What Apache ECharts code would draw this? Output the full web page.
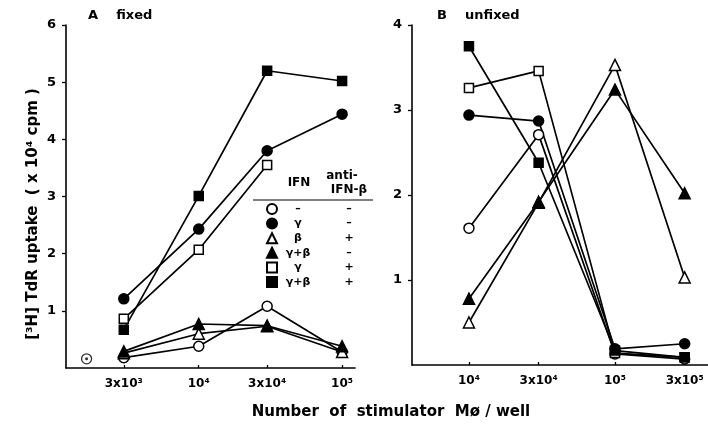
<!DOCTYPE html>
<html><head><meta charset="utf-8">
<script src="https://cdn.jsdelivr.net/npm/echarts@6/dist/echarts.min.js"></script>
<style>html,body{margin:0;padding:0;background:#fff}#c{width:708px;height:430px}</style>
</head><body><div id="c"></div><script>
// stimulator Mø per well
const xA = [3000, 10000, 30000, 100000];
const xB = [10000, 30000, 100000, 300000];
const xTickLabelsA = ['3x10³', '10⁴', '3x10⁴', '10⁵'];
const xTickLabelsB = ['10⁴', '3x10⁴', '10⁵', '3x10⁵'];
const yTicksA = [1, 2, 3, 4, 5, 6];
const yTicksB = [1, 2, 3, 4];
// legend table
const groups = ['g1', 'g2', 'g3', 'g4', 'g5', 'g6'];
const ifnCol = ['–', 'γ', 'β', 'γ+β', 'γ', 'γ+β'];
const antiCol = ['–', '–', '+', '–', '+', '+'];
// A fixed (x10^4 cpm)
const A_g1 = [0.18, 0.38, 1.08, 0.28];
const A_g2 = [1.21, 2.43, 3.80, 4.44];
const A_g3 = [0.26, 0.60, 0.73, 0.28];
const A_g4 = [0.29, 0.77, 0.74, 0.38];
const A_g5 = [0.86, 2.07, 3.55];
const A_g6 = [0.67, 3.01, 5.20, 5.02];
const A_ctrlX = [1650];
const A_ctrlY = [0.16];
// B unfixed
const B_g1 = [1.61, 2.71, 0.13, 0.07];
const B_g2 = [2.94, 2.87, 0.19, 0.25];
const B_g3 = [0.50, 1.91, 3.53, 1.03];
const B_g4 = [0.78, 1.92, 3.24, 2.02];
const B_g5 = [3.26, 3.46, 0.14, 0.09];
const B_g6 = [3.75, 2.38, 0.17, 0.09];

const shapes = ['circle', 'circle', 'triangle', 'triangle', 'rect', 'rect'];
const filled = [false, true, false, true, false, true];
const sizes = [10, 10, 11, 11, 9, 9];
const lg = Math.log10;
const F = 'DejaVu Sans';

function mk(name, i, xs, ys, gi) {
  const data = ys.map((y, k) => [lg(xs[k]), y]);
  return {
    name: name, type: 'line', xAxisIndex: gi, yAxisIndex: gi, data: data,
    symbol: shapes[i], symbolSize: sizes[i], showSymbol: true,
    lineStyle: {color: '#000', width: 1.7},
    itemStyle: {color: filled[i] ? '#000' : '#fff', borderColor: '#000', borderWidth: 1.5},
    emphasis: {disabled: true}, animation: false, z: 3
  };
}
const Aset = [A_g1, A_g2, A_g3, A_g4, A_g5, A_g6];
const Bset = [B_g1, B_g2, B_g3, B_g4, B_g5, B_g6];
const series = [];
groups.forEach((g, i) => series.push(mk(g, i, xA, Aset[i], 0)));
groups.forEach((g, i) => series.push(mk(g, i, xB, Bset[i], 1)));
series.push({type: 'scatter', xAxisIndex: 0, yAxisIndex: 0, data: A_ctrlX.map((v, k) => [lg(v), A_ctrlY[k]]),
  symbol: 'circle', symbolSize: 10, itemStyle: {color: '#fff', borderColor: '#000', borderWidth: 1.3}, animation: false, z: 3});
series.push({type: 'scatter', xAxisIndex: 0, yAxisIndex: 0, data: A_ctrlX.map((v, k) => [lg(v), A_ctrlY[k]]),
  symbol: 'circle', symbolSize: 3, itemStyle: {color: '#000'}, animation: false, z: 4});

function xAxisCfg(gi, xs, labels, min, max) {
  const vals = xs.map(lg);
  return {
    type: 'value', gridIndex: gi, min: min, max: max,
    axisLine: {show: true, lineStyle: {color: '#000', width: 1.6}},
    axisTick: {show: true, inside: true, length: 3, customValues: vals, lineStyle: {color: '#000', width: 1.3}},
    axisLabel: {show: true, customValues: vals, margin: 10, color: '#000', fontFamily: F, fontWeight: 'bold', fontSize: 12,
      formatter: v => { let b = 0; vals.forEach((t, k) => { if (Math.abs(t - v) < Math.abs(vals[b] - v)) b = k; }); return labels[b]; }},
    splitLine: {show: false}
  };
}
function yAxisCfg(gi, max, ticks) {
  return {
    type: 'value', gridIndex: gi, min: 0, max: max, interval: 1,
    axisLine: {show: true, lineStyle: {color: '#000', width: 1.6}},
    axisTick: {show: true, length: 4, customValues: ticks, lineStyle: {color: '#000', width: 1.3}},
    axisLabel: {color: '#000', fontFamily: F, fontWeight: 'bold', fontSize: 13, margin: 10, customValues: ticks},
    splitLine: {show: false}
  };
}

const chart = echarts.init(document.getElementById('c'), null, {renderer: 'canvas'});
chart.setOption({
  backgroundColor: '#fff',
  animation: false,
  grid: [
    {left: 66, right: 353, top: 25, bottom: 62},
    {left: 412, right: 0, top: 25, bottom: 65}
  ],
  xAxis: [
    xAxisCfg(0, xA, xTickLabelsA, 3.074, 5.09),
    xAxisCfg(1, xB, xTickLabelsB, 3.61, 5.637)
  ],
  yAxis: [yAxisCfg(0, 6, yTicksA), yAxisCfg(1, 4, yTicksB)],
  legend: {
    orient: 'vertical', left: 261, top: 198, itemWidth: 10, itemHeight: 10, itemGap: 2.6,
    selectedMode: false,
    data: groups.map((g, i) => ({name: g, icon: shapes[i]})),
    formatter: name => { const i = groups.indexOf(name); return '{a|' + ifnCol[i] + '}{b|' + antiCol[i] + '}'; },
    textStyle: {color: '#000', fontFamily: F, fontSize: 11, lineHeight: 10,
      rich: {a: {width: 32, align: 'center', fontFamily: F, fontWeight: 'bold', fontSize: 11, lineHeight: 10},
             b: {width: 70, align: 'center', fontFamily: F, fontWeight: 'bold', fontSize: 11, lineHeight: 10}}}
  },
  graphic: [
    {type: 'text', left: 88, top: 9, style: {text: 'A    fixed', font: 'bold 13px "DejaVu Sans"', fill: '#000'}},
    {type: 'text', left: 437, top: 9, style: {text: 'B    unfixed', font: 'bold 13px "DejaVu Sans"', fill: '#000'}},
    {type: 'text', x: 33, y: 214, rotation: Math.PI / 2,
      style: {text: '[³H] TdR uptake  ( x 10⁴ cpm )', font: 'bold 15px "DejaVu Sans"', fill: '#000', align: 'center', verticalAlign: 'middle'}},
    {type: 'text', x: 391, y: 412,
      style: {text: 'Number  of  stimulator  Mø / well', font: 'bold 15px "DejaVu Sans"', fill: '#000', align: 'center', verticalAlign: 'middle'}},
    {type: 'text', x: 299, y: 183, style: {text: 'IFN', font: 'bold 12px "DejaVu Sans"', fill: '#000', align: 'center', verticalAlign: 'middle'}},
    {type: 'text', x: 342, y: 176, style: {text: 'anti-', font: 'bold 12px "DejaVu Sans"', fill: '#000', align: 'center', verticalAlign: 'middle'}},
    {type: 'text', x: 349, y: 190, style: {text: 'IFN-β', font: 'bold 12px "DejaVu Sans"', fill: '#000', align: 'center', verticalAlign: 'middle'}},
    {type: 'line', shape: {x1: 253, y1: 200, x2: 373, y2: 200}, style: {stroke: '#000', lineWidth: 1.2}}
  ],
  series: series
});
</script></body></html>
